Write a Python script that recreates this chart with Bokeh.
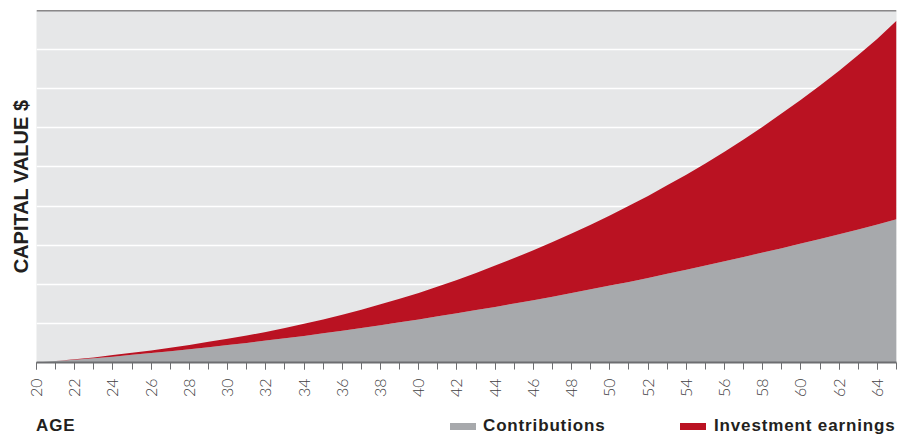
import math
from bokeh.plotting import figure
from bokeh.layouts import column
from bokeh.models import (Range1d, SingleIntervalTicker, FixedTicker, Span, Div,
                          ColumnDataSource)
from bokeh.embed import file_html
from bokeh.resources import INLINE

# ---- data ----
ages = list(range(20, 66))
contributions = [0.00, 0.04, 0.07, 0.11, 0.15, 0.20, 0.24, 0.29, 0.34, 0.39,
                 0.45, 0.50, 0.56, 0.62, 0.68, 0.75, 0.81, 0.88, 0.95, 1.03,
                 1.10, 1.18, 1.26, 1.34, 1.42, 1.51, 1.59, 1.68, 1.78, 1.87,
                 1.97, 2.06, 2.16, 2.27, 2.37, 2.48, 2.59, 2.70, 2.81, 2.92,
                 3.04, 3.16, 3.28, 3.40, 3.53, 3.66]
total_value = [0.00, 0.04, 0.08, 0.13, 0.19, 0.25, 0.31, 0.38, 0.45, 0.53,
               0.61, 0.69, 0.78, 0.88, 0.99, 1.10, 1.22, 1.35, 1.49, 1.63,
               1.78, 1.94, 2.11, 2.29, 2.48, 2.67, 2.87, 3.08, 3.30, 3.52,
               3.76, 4.01, 4.26, 4.53, 4.80, 5.09, 5.39, 5.70, 6.03, 6.37,
               6.72, 7.08, 7.46, 7.86, 8.28, 8.74]
grid_levels = [1, 2, 3, 4, 5, 6, 7, 8]
series_names = ["Contributions", "Investment earnings"]
x_title = "AGE"
y_title = "CAPITAL VALUE $"

GRAY = "#a7a9ac"
RED = "#ba1222"
DARK = "#231f20"
BOLD_FONT = "Liberation Sans"

W = 897
H_MAIN = 410
H_FOOT = 24

src = ColumnDataSource(dict(age=ages, contrib=contributions, total=total_value,
                            zero=[0] * len(ages)))

p = figure(width=W, height=H_MAIN, output_backend="svg", toolbar_location=None,
           x_range=Range1d(20, 65), y_range=Range1d(0, 9),
           min_border_left=36, min_border_right=1, min_border_top=10,
           min_border_bottom=H_MAIN - 362)
p.background_fill_color = "#e6e7e8"
p.border_fill_color = "white"
p.outline_line_color = None

# stacked areas
p.varea(x="age", y1="zero", y2="contrib", source=src, fill_color=GRAY)
p.varea(x="age", y1="contrib", y2="total", source=src, fill_color=RED)

# grid
p.xgrid.visible = False
p.ygrid.ticker = FixedTicker(ticks=grid_levels)
p.ygrid.grid_line_color = "white"
p.ygrid.grid_line_width = 1.5

# y axis: title only
ya = p.yaxis[0]
ya.ticker = FixedTicker(ticks=[])
ya.axis_line_color = None
ya.major_tick_line_color = None
ya.minor_tick_line_color = None
ya.major_tick_out = 0
ya.minor_tick_out = 0
ya.major_label_standoff = 0
ya.axis_label = y_title
ya.axis_label_standoff = 5
ya.axis_label_text_font = BOLD_FONT
ya.axis_label_text_font_style = "bold"
ya.axis_label_text_font_size = "20px"
ya.axis_label_text_color = DARK

# top rule
p.add_layout(Span(location=9, dimension="width", line_color=DARK, line_width=1.4))

# x axis
xa = p.xaxis[0]
xa.ticker = SingleIntervalTicker(interval=2, num_minor_ticks=2)
xa.axis_line_color = "#6d6e71"
xa.axis_line_width = 2
xa.major_tick_line_color = "#6d6e71"
xa.minor_tick_line_color = "#6d6e71"
xa.major_tick_in = 0
xa.major_tick_out = 7
xa.minor_tick_in = 0
xa.minor_tick_out = 7
xa.major_label_orientation = math.pi / 2
xa.major_label_standoff = 9
xa.major_label_text_font = "Lato Light"
xa.major_label_text_font_size = "16px"
xa.major_label_text_color = "#414042"

# ---- footer: x-axis title and legend ----
def span(left, top, text):
    return (f'<span style="position:absolute;left:{left}px;top:{top}px;'
            f'font-size:17px;line-height:12px;letter-spacing:0.85px;'
            f'white-space:nowrap;">{text}</span>')

def swatch(left, color):
    return (f'<span style="position:absolute;left:{left}px;top:13px;width:26px;'
            f'height:6.5px;background:{color};"></span>')

footer_html = (
    f'<div style="position:relative;width:{W}px;height:{H_FOOT}px;'
    f'font-family:\'{BOLD_FONT}\';font-weight:bold;color:{DARK};">'
    + span(36, 9.6, x_title)
    + swatch(450, GRAY) + span(483, 9.6, series_names[0])
    + swatch(680, RED) + span(714, 9.6, series_names[1])
    + '</div>'
)
footer = Div(text=footer_html, width=W, height=H_FOOT, margin=0)

layout = column(p, footer, spacing=0)
open("out.html", "w").write(file_html(layout, INLINE))
